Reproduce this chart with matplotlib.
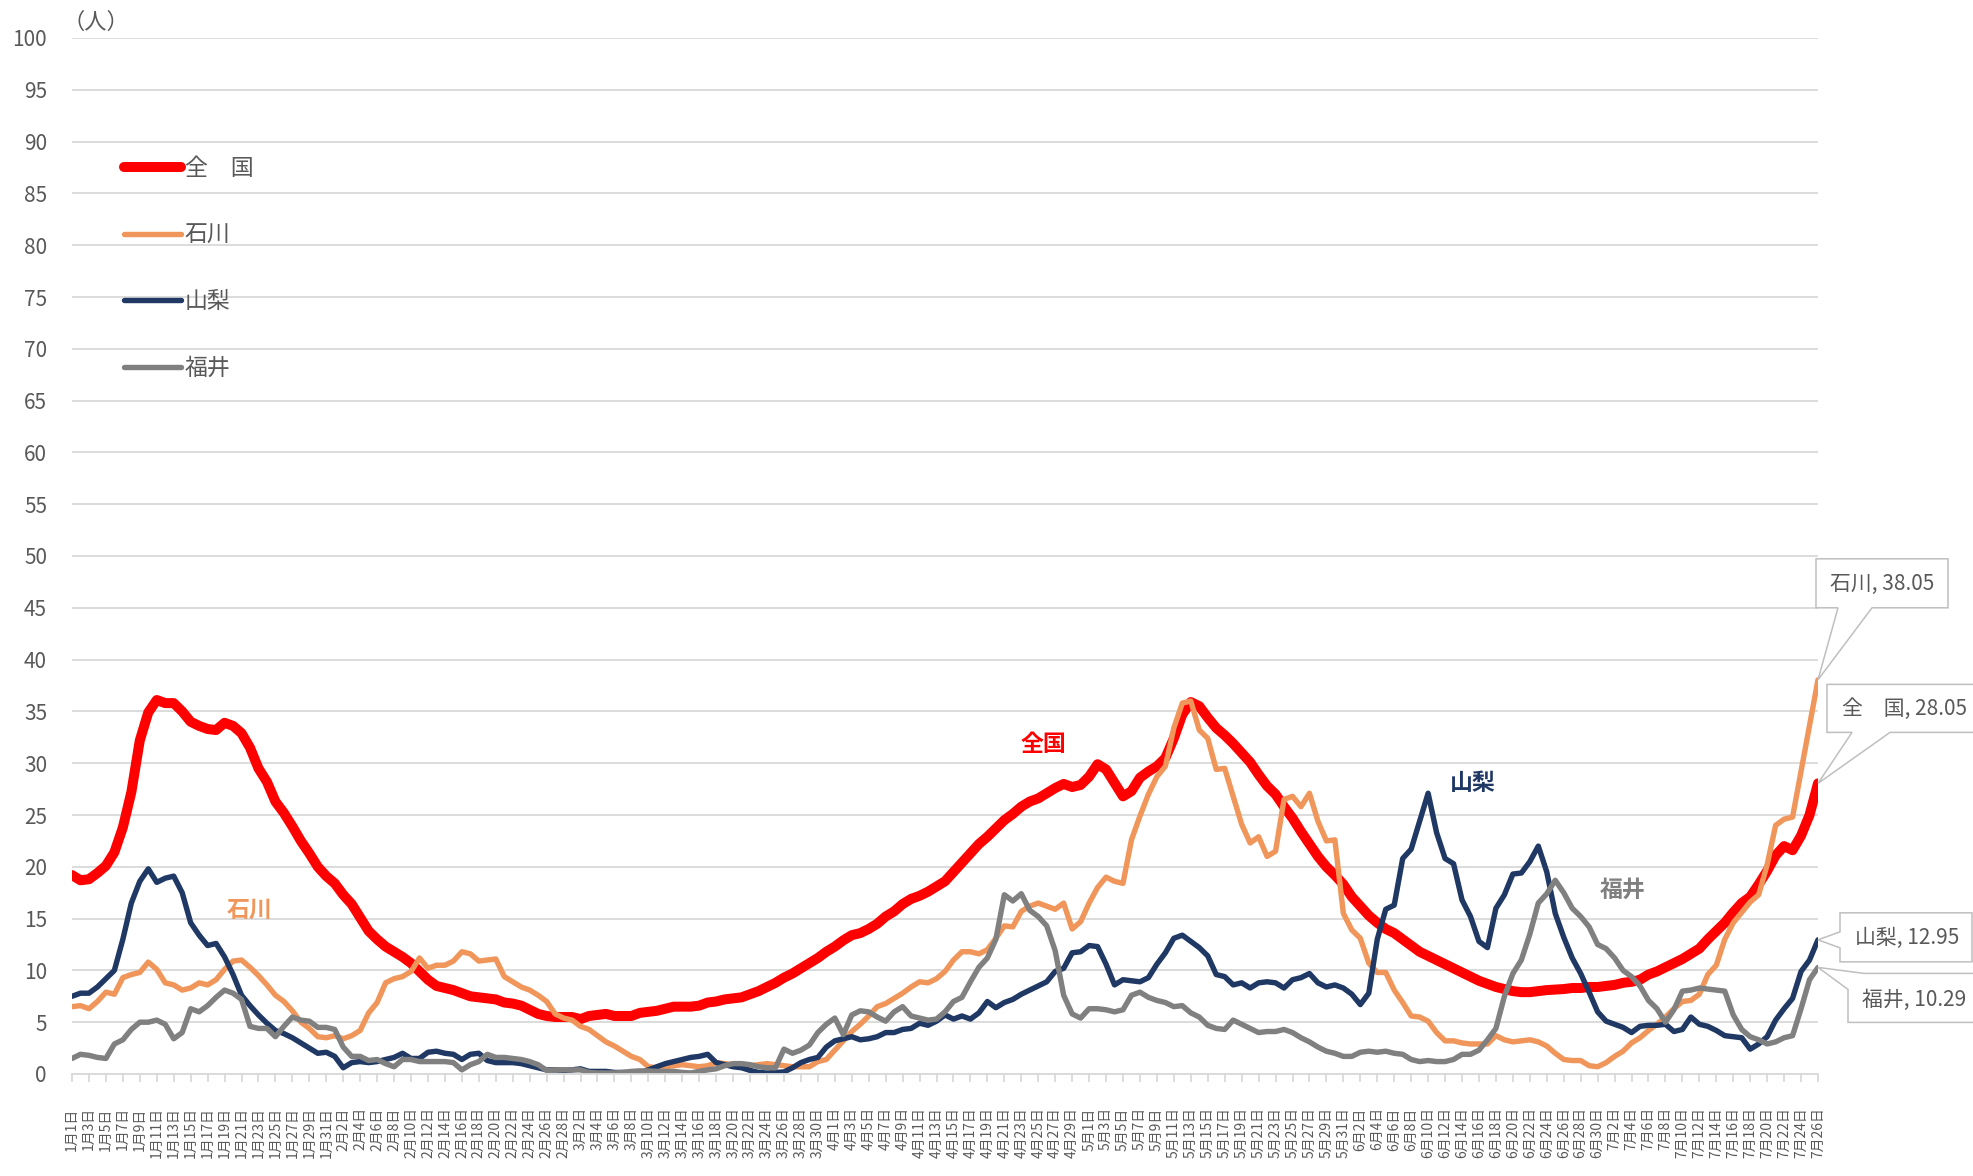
import numpy as np
import pandas as pd
import matplotlib
matplotlib.use('Agg')
import matplotlib.pyplot as plt
from matplotlib.patches import Polygon
from matplotlib.transforms import IdentityTransform

plt.rcParams['font.family'] = ['Noto Sans CJK JP', 'DejaVu Sans']

# categories: one point per day, 2021-01-01 .. 2021-07-26
dates = pd.date_range('2021-01-01', '2021-07-26', freq='D')
day_labels = [f'{d.month}月{d.day}日' for d in dates]

# 全国
zenkoku = [
    19.2, 18.7, 18.8, 19.4, 20.1, 21.4, 23.8, 27.2, 32.2, 34.9,
    36.1, 35.8, 35.8, 35.0, 34.0, 33.6, 33.3, 33.2, 33.9, 33.6,
    32.9, 31.5, 29.5, 28.2, 26.3, 25.2, 23.9, 22.5, 21.3, 20.0,
    19.1, 18.4, 17.3, 16.4, 15.1, 13.8, 13.0, 12.3, 11.8, 11.3,
    10.7, 9.9, 9.1, 8.5, 8.3, 8.1, 7.8, 7.5, 7.4, 7.3,
    7.2, 6.9, 6.8, 6.6, 6.2, 5.8, 5.6, 5.5, 5.5, 5.5,
    5.3, 5.6, 5.7, 5.8, 5.6, 5.6, 5.6, 5.9, 6.0, 6.1,
    6.3, 6.5, 6.5, 6.5, 6.6, 6.9, 7.0, 7.2, 7.3, 7.4,
    7.7, 8.0, 8.4, 8.8, 9.3, 9.7, 10.2, 10.7, 11.2, 11.8,
    12.3, 12.9, 13.4, 13.6, 14.0, 14.5, 15.2, 15.7, 16.4, 16.9,
    17.2, 17.6, 18.1, 18.6, 19.5, 20.4, 21.3, 22.2, 22.9, 23.7,
    24.5, 25.1, 25.8, 26.3, 26.6, 27.1, 27.6, 28.0, 27.7, 27.9,
    28.7, 29.9, 29.4, 28.1, 26.8, 27.3, 28.6, 29.2, 29.7, 30.5,
    32.4, 34.7, 35.9, 35.5, 34.4, 33.4, 32.7, 31.9, 31.0, 30.1,
    28.9, 27.8, 27.0, 25.8, 24.7, 23.4, 22.2, 21.0, 20.0, 19.2,
    18.3, 17.1, 16.2, 15.3, 14.6, 14.0, 13.6, 13.0, 12.4, 11.8,
    11.4, 11.0, 10.6, 10.2, 9.8, 9.4, 9.0, 8.7, 8.4, 8.2,
    8.0, 7.9, 7.9, 8.0, 8.1, 8.15, 8.2, 8.3, 8.3, 8.4,
    8.4, 8.5, 8.6, 8.8, 8.9, 9.1, 9.6, 9.9, 10.3, 10.7,
    11.1, 11.6, 12.1, 13.0, 13.8, 14.6, 15.6, 16.5, 17.1, 18.3,
    19.6, 21.1, 22.0, 21.6, 23.0, 25.0, 28.05]

# 石川
ishikawa = [
    6.5, 6.6, 6.3, 7.0, 7.9, 7.7, 9.3, 9.6, 9.8, 10.8,
    10.1, 8.8, 8.6, 8.1, 8.3, 8.8, 8.6, 9.1, 10.1, 10.9,
    11.0, 10.3, 9.5, 8.6, 7.6, 7.0, 6.1, 5.0, 4.4, 3.6,
    3.5, 3.7, 3.4, 3.7, 4.2, 5.9, 6.9, 8.8, 9.2, 9.4,
    9.9, 11.2, 10.2, 10.5, 10.5, 10.9, 11.8, 11.6, 10.9, 11.0,
    11.1, 9.4, 8.9, 8.4, 8.1, 7.6, 7.0, 5.8, 5.4, 5.2,
    4.6, 4.3, 3.7, 3.1, 2.7, 2.2, 1.7, 1.4, 0.7, 0.6,
    0.7, 0.8, 0.9, 0.8, 0.7, 0.8, 1.1, 1.0, 0.9, 0.9,
    0.8, 0.9, 1.0, 0.9, 0.8, 0.7, 0.7, 0.7, 1.2, 1.4,
    2.3, 3.2, 4.1, 4.8, 5.6, 6.5, 6.8, 7.3, 7.8, 8.4,
    8.9, 8.8, 9.2, 9.9, 11.0, 11.8, 11.8, 11.6, 12.0, 13.1,
    14.3, 14.2, 15.7, 16.2, 16.5, 16.2, 15.9, 16.5, 14.0, 14.7,
    16.5, 18.0, 19.0, 18.6, 18.4, 22.6, 24.9, 27.0, 28.7, 29.7,
    33.4, 35.8, 36.0, 33.2, 32.4, 29.4, 29.5, 26.8, 24.1, 22.3,
    22.9, 21.0, 21.5, 26.5, 26.8, 25.8, 27.1, 24.4, 22.5, 22.6,
    15.5, 13.9, 13.1, 10.7, 9.8, 9.8, 8.1, 6.9, 5.6, 5.5,
    5.1, 4.0, 3.2, 3.2, 3.0, 2.9, 2.9, 2.9, 3.7, 3.3,
    3.1, 3.2, 3.3, 3.1, 2.7, 2.0, 1.4, 1.3, 1.3, 0.8,
    0.7, 1.1, 1.7, 2.2, 3.0, 3.5, 4.2, 4.8, 5.5, 6.3,
    7.0, 7.1, 7.7, 9.6, 10.5, 13.0, 14.6, 15.6, 16.6, 17.3,
    20.2, 24.0, 24.6, 24.8, 29.2, 33.6, 38.05]

# 山梨
yamanashi = [
    7.5, 7.8, 7.8, 8.4, 9.2, 10.0, 13.0, 16.5, 18.6, 19.8,
    18.5, 18.9, 19.1, 17.5, 14.6, 13.4, 12.4, 12.6, 11.3, 9.6,
    7.6, 6.6, 5.7, 4.9, 4.2, 3.9, 3.5, 3.0, 2.5, 2.0,
    2.1, 1.7, 0.6, 1.1, 1.2, 1.1, 1.2, 1.4, 1.6, 2.0,
    1.5, 1.5, 2.1, 2.2, 2.0, 1.9, 1.4, 1.9, 2.0, 1.3,
    1.1, 1.1, 1.1, 1.0, 0.8, 0.6, 0.4, 0.4, 0.35, 0.4,
    0.5, 0.25, 0.25, 0.25, 0.15, 0.15, 0.15, 0.1, 0.4, 0.7,
    1.0, 1.2, 1.4, 1.6, 1.7, 1.9, 1.1, 0.9, 0.7, 0.6,
    0.35, 0.15, 0.1, 0.15, 0.2, 0.6, 1.1, 1.4, 1.6, 2.6,
    3.2, 3.4, 3.6, 3.3, 3.4, 3.6, 4.0, 4.0, 4.3, 4.4,
    4.9, 4.7, 5.1, 5.7, 5.3, 5.6, 5.3, 5.9, 7.0, 6.4,
    6.9, 7.2, 7.7, 8.1, 8.5, 8.9, 9.9, 10.2, 11.7, 11.8,
    12.4, 12.3, 10.6, 8.6, 9.1, 9.0, 8.9, 9.3, 10.6, 11.7,
    13.1, 13.4, 12.8, 12.2, 11.4, 9.6, 9.4, 8.6, 8.8, 8.3,
    8.8, 8.9, 8.8, 8.3, 9.1, 9.3, 9.7, 8.8, 8.4, 8.6,
    8.3, 7.7, 6.7, 7.8, 13.0, 15.9, 16.3, 20.8, 21.7, 24.4,
    27.1, 23.3, 20.8, 20.3, 16.8, 15.2, 12.8, 12.2, 16.0, 17.3,
    19.3, 19.4, 20.5, 22.0, 19.5, 15.5, 13.2, 11.2, 9.7, 7.9,
    6.0, 5.1, 4.8, 4.5, 4.0, 4.6, 4.7, 4.7, 4.8, 4.1,
    4.3, 5.5, 4.8, 4.6, 4.2, 3.7, 3.6, 3.5, 2.4, 2.9,
    3.6, 5.2, 6.3, 7.3, 9.9, 11.0, 12.95]

# 福井
fukui = [
    1.5, 1.9, 1.8, 1.6, 1.5, 2.9, 3.3, 4.3, 5.0, 5.0,
    5.2, 4.8, 3.4, 4.0, 6.3, 6.0, 6.6, 7.4, 8.1, 7.8,
    7.2, 4.6, 4.4, 4.4, 3.6, 4.6, 5.5, 5.2, 5.1, 4.5,
    4.5, 4.3, 2.6, 1.7, 1.7, 1.3, 1.4, 1.0, 0.7, 1.4,
    1.4, 1.2, 1.2, 1.2, 1.2, 1.1, 0.4, 0.9, 1.2, 1.9,
    1.6, 1.6, 1.5, 1.4, 1.2, 0.9, 0.35, 0.4, 0.4, 0.4,
    0.4, 0.15, 0.1, 0.1, 0.1, 0.15, 0.25, 0.3, 0.3, 0.25,
    0.25, 0.25, 0.15, 0.1, 0.25, 0.4, 0.5, 0.8, 1.0, 1.0,
    0.9, 0.7, 0.6, 0.6, 2.4, 2.0, 2.3, 2.8, 4.0, 4.8,
    5.4, 3.8, 5.7, 6.1, 6.0, 5.5, 5.1, 6.0, 6.5, 5.6,
    5.4, 5.2, 5.3, 6.0, 7.0, 7.4, 8.9, 10.3, 11.2, 13.0,
    17.3, 16.7, 17.4, 15.8, 15.2, 14.3, 11.9, 7.6, 5.8, 5.4,
    6.3, 6.3, 6.2, 6.0, 6.2, 7.6, 7.9, 7.4, 7.1, 6.9,
    6.5, 6.6, 5.9, 5.5, 4.7, 4.4, 4.3, 5.2, 4.8, 4.4,
    4.0, 4.1, 4.1, 4.3, 4.0, 3.5, 3.1, 2.6, 2.2, 2.0,
    1.7, 1.7, 2.1, 2.2, 2.1, 2.2, 2.0, 1.9, 1.4, 1.2,
    1.3, 1.2, 1.2, 1.4, 1.9, 1.9, 2.3, 3.3, 4.4, 7.5,
    9.7, 11.0, 13.5, 16.5, 17.4, 18.7, 17.5, 16.0, 15.2, 14.2,
    12.5, 12.1, 11.2, 10.0, 9.4, 8.5, 7.1, 6.3, 5.0, 6.2,
    8.0, 8.1, 8.3, 8.2, 8.1, 8.0, 5.7, 4.3, 3.6, 3.3,
    2.9, 3.1, 3.5, 3.7, 6.3, 9.1, 10.29]

names = ['全　国', '石川', '山梨', '福井']
series = [zenkoku, ishikawa, yamanashi, fukui]
colors = ['#FF0000', '#F0965A', '#1F3864', '#808080']
widths = [7.2, 3.9, 3.9, 3.9]

W, H = 1974, 1176
fig = plt.figure(figsize=(W / 100, H / 100), dpi=100)
ax = fig.add_axes([72 / W, 102 / H, 1746 / W, 1036 / H])

x = np.arange(len(dates))
handles = []
for name, vals, c, lw in zip(names, series, colors, widths):
    ln, = ax.plot(x, vals, color=c, lw=lw, label=name,
                  solid_joinstyle='round', solid_capstyle='round')
    handles.append(ln)

ax.set_xlim(0, len(dates) - 1)
ax.set_ylim(0, 100)

# axes styling
grid_c = '#D9D9D9'
txt_c = '#595959'
for s in ['top', 'right', 'left']:
    ax.spines[s].set_visible(False)
ax.spines['bottom'].set_color(grid_c)
ax.spines['bottom'].set_linewidth(1.3)
ax.set_yticks(np.arange(0, 101, 5))
ax.yaxis.grid(True, color=grid_c, linewidth=1.3)
ax.set_axisbelow(True)
ax.tick_params(axis='y', length=0, pad=18, labelsize=15, labelcolor=txt_c)

ax.set_xticks(x[::2])
ax.set_xticklabels(day_labels[::2], rotation=90, fontsize=10, color=txt_c)
ax.tick_params(axis='x', length=6, width=1.3, color=grid_c, pad=18)

fig.text(96 / W, 1 - 22 / H, '（人）', ha='center', va='center',
         fontsize=16, color=txt_c)

leg = ax.legend(handles=handles, loc='upper left', frameon=False,
                bbox_to_anchor=(124 / W, 1 - 157 / H), bbox_transform=fig.transFigure,
                fontsize=16.5, handlelength=2.5, handletextpad=0.15,
                labelspacing=1.9, borderpad=0, borderaxespad=0)
for t in leg.get_texts():
    t.set_color(txt_c)

# series name labels inside the plot
lab_kw = dict(fontsize=16.5, fontweight='bold', ha='center', va='center')
ax.text(21.0, 15.8, '石川', color=colors[1], **lab_kw)
ax.text(114.6, 31.8, '全国', color=colors[0], **lab_kw)
ax.text(165.3, 28.0, '山梨', color=colors[2], **lab_kw)
ax.text(183.0, 17.7, '福井', color=colors[3], **lab_kw)


# callout boxes for the last values (offsets in pixels, y up)
def callout(vals, name, box, tail, text_off):
    tx, ty = ax.transData.transform((len(vals) - 1, vals[-1]))
    x0, x1, y0, y1 = box
    pts = [(tx + px, ty + py) for px, py in tail(x0, x1, y0, y1)]
    poly = Polygon(pts, closed=True, facecolor='white', edgecolor='#BFBFBF',
                   linewidth=1.1, transform=IdentityTransform(), clip_on=False,
                   zorder=5)
    fig.add_artist(poly)
    fig.text((tx + text_off[0]) / W, (ty + text_off[1]) / H,
             f'{name}, {vals[-1]:.2f}', ha='center', va='center',
             fontsize=15, color=txt_c, zorder=6)


def tail_below(a, b):
    def f(x0, x1, y0, y1):
        return [(x0, y1), (x1, y1), (x1, y0), (b, y0), (0, 0), (a, y0), (x0, y0)]
    return f


def tail_left(x0, x1, y0, y1):
    return [(x0, y1), (x1, y1), (x1, y0), (x0, y0), (x0, -8), (0, 0), (x0, 8)]


def tail_corner(x0, x1, y0, y1):
    return [(x0 + 16, y1), (x1, y1), (x1, y0), (x0, y0), (x0, y1 - 16), (0, 0)]


callout(ishikawa, '石川', (-2, 130, 72, 121), tail_below(20, 54), (64, 96))
callout(zenkoku, '全　国', (9, 190, 51, 99), tail_below(34, 72), (87, 74))
callout(yamanashi, '山梨', (22, 154, -22, 27), tail_left, (89, 2))
callout(fukui, '福井', (30, 190, -55, -6), tail_corner, (96, -33))

fig.savefig('out.png', dpi=100)
